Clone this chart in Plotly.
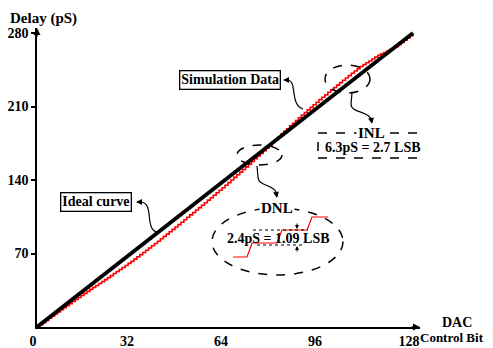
import plotly.graph_objects as go

# ---------------- data ----------------
dac_codes = list(range(129))
sim_delay = [
    0, 2.1, 4.1, 6.2, 8.3, 10.3, 12.4, 14.4, 16.5, 18.4,
    20.4, 22.3, 24.3, 26.2, 28.1, 30.1, 32.0, 33.9, 35.8, 37.7,
    39.5, 41.4, 43.2, 45.1, 47.0, 48.9, 50.9, 52.8, 54.8, 56.7,
    58.6, 60.6, 62.5, 64.6, 66.8, 68.9, 71.0, 73.1, 75.2, 77.4,
    79.5, 81.7, 84.0, 86.3, 88.5, 90.7, 93.0, 95.3, 97.5, 99.8,
    102.1, 104.5, 106.8, 109.0, 111.4, 113.7, 116.0, 118.4, 120.8, 123.1,
    125.5, 127.9, 130.2, 132.6, 135.0, 137.5, 140.0, 142.5, 145.0, 147.5,
    150.0, 152.5, 155.0, 157.6, 160.2, 162.8, 165.4, 168.0, 170.6, 173.2,
    175.9, 178.4, 181.0, 183.7, 186.3, 188.8, 191.5, 194.1, 196.7, 199.3,
    201.9, 204.3, 206.8, 209.2, 211.6, 214.1, 216.5, 218.8, 221.1, 223.5,
    225.8, 228.0, 230.4, 232.7, 235.0, 237.2, 239.4, 241.6, 243.8, 245.9,
    248.1, 249.9, 251.7, 253.4, 255.2, 257.0, 258.8, 260.1, 261.5, 262.8,
    264.2, 265.5, 266.9, 269.0, 271.0, 273.2, 275.3, 277.4, 279.5,
]
ideal_x = [0, 128]
ideal_y = [0, 280]
x_tick_vals = [0, 32, 64, 96, 128]
x_tick_text = ["0", "32", "64", "96", "128"]
y_tick_vals = [70, 140, 210, 280]
y_tick_text = ["70", "140", "210", "280"]

# ---------------- layout helpers (page pixel -> data / paper) ----------------
OFF = 8                      # browser default body margin
PW, PH = 493, 348            # page size
W, H = PW - OFF, PH - OFF    # figure size
PX0, PX1 = 37, 420           # plot area in page pixels (x)
PY0, PY1 = 28, 327           # plot area in page pixels (y)
L, T = PX0 - OFF, PY0 - OFF
R, B = W - (PX1 - OFF), H - (PY1 - OFF)
SX = 376 / 128.0
SY = 294 / 280.0
X_MAX = (PX1 - PX0) / SX
Y_MAX = (PY1 - PY0) / SY


def dx(px):
    return (px - PX0) / SX


def dy(py):
    return (PY1 - py) / SY


def papx(px):
    return (px - PX0) / (PX1 - PX0)


def papy(py):
    return (PY1 - py) / (PY1 - PY0)


def path(pts_cmds):
    out = []
    for item in pts_cmds:
        if isinstance(item, str):
            out.append(item)
        else:
            out.append(f"{dx(item[0]):.3f},{dy(item[1]):.3f}")
    return " ".join(out)


SERIF = "Liberation Serif"
fig = go.Figure()

fig.add_trace(go.Scatter(
    x=dac_codes, y=sim_delay, mode="lines", line=dict(color="#ff0000", width=1.6, shape="hv"),
    name="Simulation Data", showlegend=False, hoverinfo="skip"))
fig.add_trace(go.Scatter(
    x=ideal_x, y=ideal_y, mode="lines", line=dict(color="black", width=3.8),
    name="Ideal curve", showlegend=False, hoverinfo="skip"))

shapes = []
ann = []


def curve(d, width=1.2, color="black", dash="solid"):
    shapes.append(dict(type="path", xref="x", yref="y", path=d,
                       line=dict(color=color, width=width, dash=dash), layer="above"))


def head(hx, hy, ax, ay, width=1.2, size=1.0):
    ann.append(dict(x=dx(hx), y=dy(hy), xref="x", yref="y", ax=ax, ay=ay, text="",
                    showarrow=True, arrowhead=2, arrowsize=size, arrowwidth=width,
                    arrowcolor="black"))


def ellipse(x0, y0, x1, y1, width=1.5):
    shapes.append(dict(type="circle", xref="x", yref="y", x0=dx(x0), x1=dx(x1),
                       y0=dy(y1), y1=dy(y0), line=dict(color="black", width=width, dash="dash"),
                       layer="above"))


def label(px, py, text, size=14, box=False, bg=None, xanchor="center", yanchor="middle"):
    a = dict(x=papx(px), y=papy(py), xref="paper", yref="paper", text=text, showarrow=False,
             xanchor=xanchor, yanchor=yanchor,
             font=dict(family=SERIF, size=size, color="black", weight="bold"))
    if box:
        a.update(bordercolor="black", borderwidth=1.3, borderpad=1, bgcolor="white")
    if bg:
        a.update(bgcolor=bg)
    ann.append(a)


# axis arrows
ann.append(dict(x=1, y=0, xref="paper", yref="paper", ax=-10, ay=0, text="", showarrow=True,
                arrowhead=2, arrowsize=1, arrowwidth=1.4, arrowcolor="black"))
ann.append(dict(x=0, y=1, xref="paper", yref="paper", ax=0, ay=10, text="", showarrow=True,
                arrowhead=2, arrowsize=1, arrowwidth=1.4, arrowcolor="black"))

# Simulation Data callout
label(229.5, 79.5, "Simulation Data", size=14, box=True)
curve(path(["M", (303, 109), "C", (289, 104), (298, 80), (287, 80)]))
head(283, 80, 6, 0)

# Ideal curve callout
label(95.5, 202.5, "Ideal curve", size=14, box=True)
curve(path(["M", (157, 232), "C", (144, 229), (155, 202), (140, 202)]))
head(136, 202, 6, 0)

# INL
ellipse(325, 65, 370, 93)
curve(path(["M", (352, 93), "L", (351, 104), "C", (351, 113), (368, 111), (371, 119)]))
head(372, 124, -1, -6)
shapes.append(dict(type="rect", xref="x", yref="y", x0=dx(318), x1=dx(427), y0=dy(158), y1=dy(133),
                   line=dict(color="black", width=1.5, dash="dash"), layer="above"))
label(371, 133, "INL", size=15, bg="white")
label(372.5, 147.5, "6.3pS = 2.7 LSB", size=14)

# DNL
ellipse(237, 145, 282, 165)
curve(path(["M", (257, 166), "L", (258, 177), "C", (258, 186), (274, 185), (276, 192)]))
head(277, 198, -1, -6)
ellipse(212, 208, 343, 275)
curve(path(["M", (233, 257), "L", (247, 257), "L", (252, 243), "L", (277, 243), "L", (282, 230),
            "L", (307, 230), "L", (312, 217), "L", (328, 217)]), width=1.2, color="#ff0000")
curve(path(["M", (253, 230), "L", (308, 230)]), width=1, dash="dot")
curve(path(["M", (257, 245), "L", (305, 245)]), width=1, dash="dot")
head(297, 229, 0, -7, width=1, size=0.8)
head(297, 246, 0, 7, width=1, size=0.8)
label(277, 208, "DNL", size=15, bg="white")
label(278.5, 238, "2.4pS = 1.09 LSB", size=14)

# axis titles
label(8, 8, "Delay (pS)", size=15, xanchor="left", yanchor="top")
label(457, 322, "DAC", size=14)
label(486, 337, "Control Bit", size=13, xanchor="right")

fig.update_layout(
    width=W, height=H, margin=dict(l=L, r=R, t=T, b=B, autoexpand=False),
    paper_bgcolor="white", plot_bgcolor="white", showlegend=False,
    shapes=shapes, annotations=ann,
    xaxis=dict(range=[0, X_MAX], tickvals=x_tick_vals, ticktext=x_tick_text, showgrid=False,
               zeroline=False, showline=True, linecolor="black", linewidth=1.5, ticks="",
               ticklabelshift=-4,
               tickfont=dict(family=SERIF, size=14, color="black", weight="bold"),
               automargin=False, fixedrange=True),
    yaxis=dict(range=[0, Y_MAX], tickvals=y_tick_vals, ticktext=y_tick_text, showgrid=False,
               zeroline=False, showline=True, linecolor="black", linewidth=1.5, ticks="outside",
               ticklen=4, tickwidth=1.5, tickcolor="black",
               tickfont=dict(family=SERIF, size=14, color="black", weight="bold"),
               automargin=False, fixedrange=True),
)

fig.write_html("out.html")
